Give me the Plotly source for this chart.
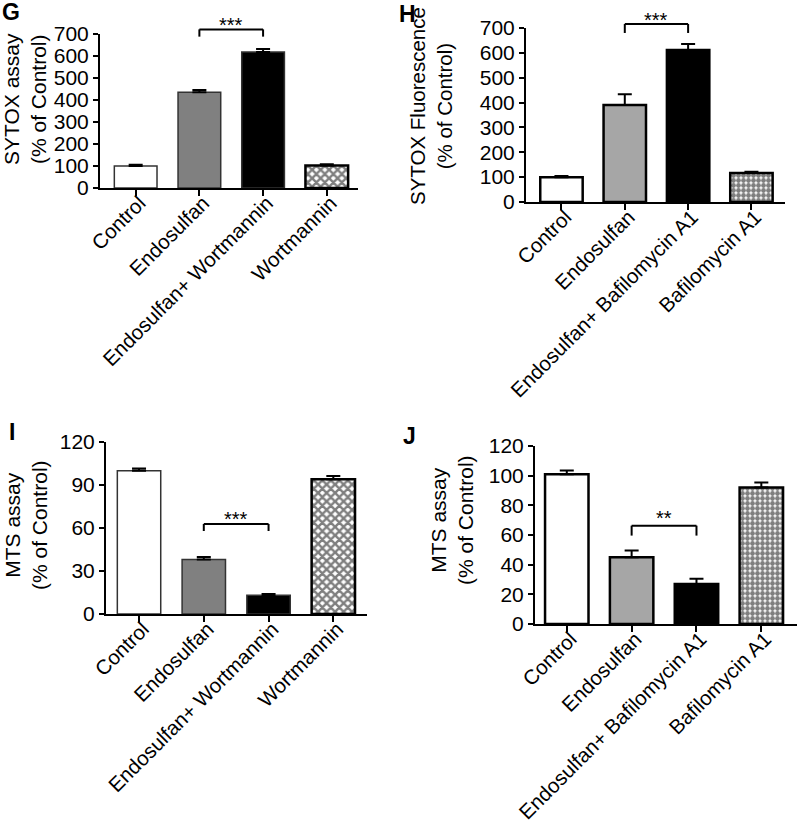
import plotly.graph_objects as go

# ---------------- data ----------------
cats_w = ["Control", "Endosulfan", "Endosulfan+ Wortmannin", "Wortmannin"]
cats_b = ["Control", "Endosulfan", "Endosulfan+ Bafilomycin A1", "Bafilomycin A1"]

g_vals = [100, 435, 618, 102]
g_err = [6, 10, 14, 6]
h_vals = [100, 390, 611, 117]
h_err = [5, 43, 25, 5]
i_vals = [100, 38, 13, 94]
i_err = [1.5, 1.8, 1.0, 2.2]
j_vals = [101, 45, 27, 92]
j_err = [2.5, 4.5, 3.5, 3.4]

g_ticks = [0, 100, 200, 300, 400, 500, 600, 700]
h_ticks = [0, 100, 200, 300, 400, 500, 600, 700]
i_ticks = [0, 30, 60, 90, 120]
j_ticks = [0, 20, 40, 60, 80, 100, 120]

g_title = "SYTOX assay<br>(% of Control)"
h_title = "SYTOX Fluorescence<br>(% of Control)"
i_title = "MTS assay<br>(% of Control)"
j_title = "MTS assay<br>(% of Control)"

# significance: (from index, to index, bracket level, leg bottom, star level, text)
g_sig = (1, 2, 721, 688, 743, "***")
h_sig = (1, 2, 716, 680, 734, "***")
i_sig = (1, 2, 62.8, 57.9, 66.3, "***")
j_sig = (1, 2, 66.3, 59.6, 71.5, "**")

FONT = "Liberation Sans, Arial, Helvetica, sans-serif"

panels = [
    dict(letter="G", cats=cats_w, vals=g_vals, err=g_err, ticks=g_ticks, yr=[0, 700],
         title=g_title, sig=g_sig, tsize=21,
         xd=[100 / 800, 358 / 800], yd=[1 - 188 / 825, 1 - 34 / 825], xr=[-0.56, 3.49],
         gray="#808080", pat="x", line="#333333", lw=1.5,
         letter_xy=(11, 12), title_xy=(25, 99)),
    dict(letter="H", cats=cats_b, vals=h_vals, err=h_err, ticks=h_ticks, yr=[0, 700],
         title=h_title, sig=h_sig, tsize=20.5,
         xd=[526 / 800, 785 / 800], yd=[1 - 202 / 825, 1 - 28 / 825], xr=[-0.56, 3.53],
         gray="#a6a6a6", pat=".", line="black", lw=2.5,
         letter_xy=(407, 14), title_xy=(431, 106)),
    dict(letter="I", cats=cats_w, vals=i_vals, err=i_err, ticks=i_ticks, yr=[0, 120],
         title=i_title, sig=i_sig, tsize=21,
         xd=[106 / 800, 367 / 800], yd=[1 - 614 / 825, 1 - 442 / 825], xr=[-0.51, 3.52],
         gray="#808080", pat="x", line="#333333", lw=1.5,
         letter_xy=(12, 432), title_xy=(26, 525)),
    dict(letter="J", cats=cats_b, vals=j_vals, err=j_err, ticks=j_ticks, yr=[0, 120],
         title=j_title, sig=j_sig, tsize=21,
         xd=[535 / 800, 797 / 800], yd=[1 - 624 / 825, 1 - 446 / 825], xr=[-0.49, 3.55],
         gray="#a6a6a6", pat=".", line="black", lw=2.5,
         letter_xy=(409, 436), title_xy=(452, 520)),
]

fig = go.Figure()
shapes = []
annotations = []

for k, p in enumerate(panels):
    sfx = "" if k == 0 else str(k + 1)
    xa, ya = "x" + sfx, "y" + sfx
    fills = ["white", p["gray"], "black"]
    err_style = dict(color="black", thickness=2, width=7)
    # plain bars
    fig.add_trace(go.Bar(
        x=p["cats"][:3], y=p["vals"][:3], xaxis=xa, yaxis=ya, width=0.67,
        marker=dict(color=fills, line=dict(color=p["line"], width=p["lw"])),
        error_y=dict(type="data", array=p["err"][:3], arrayminus=[0] * 3, symmetric=False,
                     **err_style),
        showlegend=False, hoverinfo="skip",
    ))
    # patterned bar
    fig.add_trace(go.Bar(
        x=p["cats"][3:], y=p["vals"][3:], xaxis=xa, yaxis=ya, width=0.67,
        marker=dict(color="white", line=dict(color="black", width=2.5),
                    pattern=dict(shape=p["pat"], fgcolor="black", bgcolor="white",
                                 size=6 if p["pat"] == "x" else 5,
                                 solidity=0.65 if p["pat"] == "x" else 0.72)),
        error_y=dict(type="data", array=p["err"][3:], arrayminus=[0], symmetric=False,
                     **err_style),
        showlegend=False, hoverinfo="skip",
    ))
    fig.update_layout(**{
        "xaxis" + sfx: dict(domain=p["xd"], anchor=ya, range=p["xr"], type="category",
                            categoryorder="array", categoryarray=p["cats"],
                            showline=True, linecolor="black", linewidth=2,
                            ticks="outside", ticklen=6, tickwidth=2, tickcolor="black",
                            tickangle=-45, showgrid=False, zeroline=False,
                            ticklabelstandoff=-13, ticklabelshift=4,
                            tickfont=dict(size=20.5, color="black", family=FONT),
                            automargin=False, fixedrange=True),
        "yaxis" + sfx: dict(domain=p["yd"], anchor=xa, range=p["yr"], tickvals=p["ticks"],
                            showline=True, linecolor="black", linewidth=2,
                            ticks="outside", ticklen=5, tickwidth=2, tickcolor="black",
                            showgrid=False, zeroline=False,
                            tickfont=dict(size=21, color="black", family=FONT),
                            automargin=False, fixedrange=True),
    })

    def to_paper(v, p=p):
        r0, r1 = p["yr"]
        d0, d1 = p["yd"]
        return d0 + (v - r0) / (r1 - r0) * (d1 - d0)

    a, b, top, leg, star, txt = p["sig"]
    yt, yl = to_paper(top), to_paper(leg)
    lstyle = dict(color="black", width=2)
    shapes.append(dict(type="line", xref=xa, yref="paper", x0=a, x1=b, y0=yt, y1=yt, line=lstyle))
    shapes.append(dict(type="line", xref=xa, yref="paper", x0=a, x1=a, y0=yl, y1=yt, line=lstyle))
    shapes.append(dict(type="line", xref=xa, yref="paper", x0=b, x1=b, y0=yl, y1=yt, line=lstyle))
    annotations.append(dict(text=txt, xref=xa, yref="paper", x=(a + b) / 2, y=to_paper(star),
                            showarrow=False, xanchor="center", yanchor="middle",
                            font=dict(size=20, color="black", family=FONT)))

    lx, ly = p["letter_xy"]
    annotations.append(dict(text="<b>" + p["letter"] + "</b>", xref="paper", yref="paper",
                            x=lx / 800, y=1 - ly / 825, xanchor="center", yanchor="middle",
                            showarrow=False, font=dict(size=23, color="black", family=FONT)))
    tx, ty = p["title_xy"]
    annotations.append(dict(text=p["title"], xref="paper", yref="paper",
                            x=tx / 800, y=1 - ty / 825, xanchor="center", yanchor="middle",
                            textangle=-90, showarrow=False,
                            font=dict(size=p["tsize"], color="black", family=FONT)))

fig.update_layout(
    width=800, height=825,
    margin=dict(l=0, r=0, t=0, b=0),
    paper_bgcolor="white", plot_bgcolor="white",
    shapes=shapes, annotations=annotations,
    barmode="overlay",
    font=dict(family=FONT, color="black"),
)

fig.write_html("out.html", config={"displayModeBar": False},
               post_script="document.body.style.margin='0px';")
